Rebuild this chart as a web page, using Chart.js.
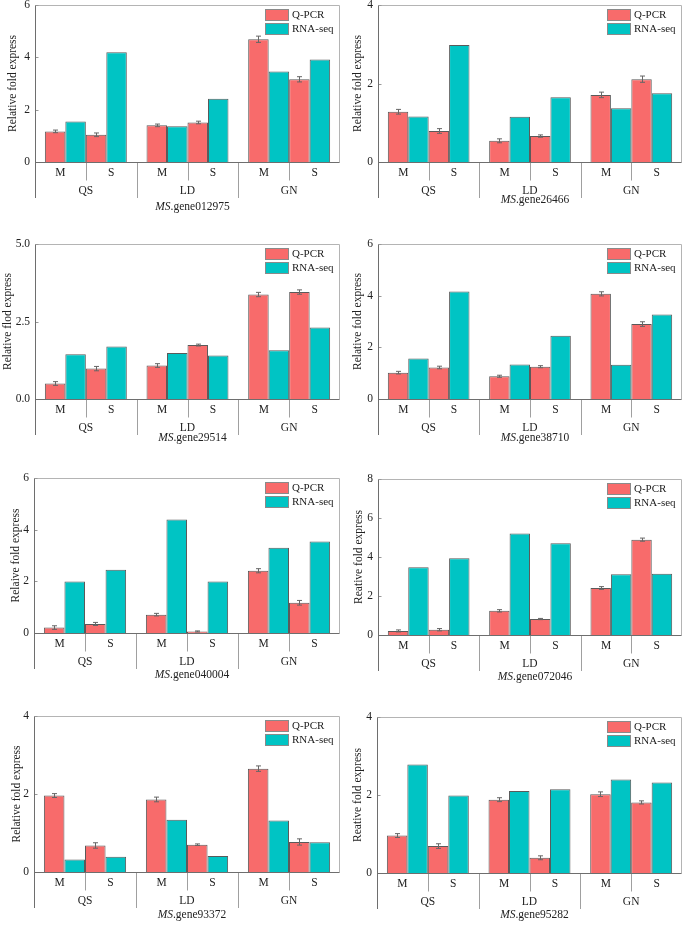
<!DOCTYPE html>
<html>
<head>
<meta charset="utf-8">
<script src="https://cdn.jsdelivr.net/npm/chart.js@4.4.1/dist/chart.umd.min.js"></script>
<style>
body{margin:0;background:#fff;}
#fig{position:relative;width:685px;height:942px;overflow:hidden;background:#fff;}
#fig canvas{position:absolute;}
</style>
</head>
<body>
<div id="fig"></div>
<script>
// ---- data ----
let seriesNames = ['Q-PCR', 'RNA-seq'];
let groups = ['QS', 'LD', 'GN'];
let subs = ['M', 'S'];
let genes = ['012975', '26466', '29514', '38710', '040004', '072046', '93372', '95282'];
let yTitles = ['Relative fold express', 'Relative fold express', 'Relative flod express', 'Relative fold express',
	'Relaive fold express', 'Reative fold express', 'Relative fold express', 'Reative fold express'];
let yMax = [6, 4, 5, 6, 6, 8, 4, 4];
let yStep = [2, 2, 2.5, 2, 2, 2, 2, 2];

// order of values: QS-M, QS-S, LD-M, LD-S, GN-M, GN-S
let q012975 = [1.17, 1.04, 1.40, 1.51, 4.69, 3.16];
let r012975 = [1.55, 4.19, 1.37, 2.42, 3.46, 3.92];
let e012975 = [0.05, 0.07, 0.05, 0.05, 0.12, 0.10];

let q26466 = [1.28, 0.79, 0.54, 0.66, 1.71, 2.11];
let r26466 = [1.16, 2.98, 1.15, 1.65, 1.37, 1.75];
let e26466 = [0.06, 0.06, 0.05, 0.03, 0.07, 0.08];

let q29514 = [0.50, 0.98, 1.08, 1.74, 3.37, 3.45];
let r29514 = [1.44, 1.69, 1.48, 1.40, 1.57, 2.31];
let e29514 = [0.06, 0.07, 0.06, 0.03, 0.07, 0.07];

let q38710 = [1.02, 1.22, 0.88, 1.25, 4.07, 2.90];
let r38710 = [1.57, 4.16, 1.34, 2.45, 1.33, 3.27];
let e38710 = [0.05, 0.05, 0.04, 0.04, 0.08, 0.09];

let q040004 = [0.21, 0.35, 0.71, 0.06, 2.41, 1.17];
let r040004 = [1.99, 2.45, 4.39, 1.99, 3.30, 3.54];
let e040004 = [0.07, 0.06, 0.05, 0.02, 0.08, 0.09];

let q072046 = [0.21, 0.27, 1.24, 0.82, 2.41, 4.89];
let r072046 = [3.48, 3.94, 5.21, 4.70, 3.11, 3.14];
let e072046 = [0.05, 0.06, 0.06, 0.03, 0.07, 0.08];

let q93372 = [1.96, 0.68, 1.86, 0.70, 2.65, 0.77];
let r93372 = [0.32, 0.39, 1.34, 0.41, 1.32, 0.76];
let e93372 = [0.05, 0.07, 0.06, 0.02, 0.07, 0.08];

let q95282 = [0.96, 0.69, 1.88, 0.39, 2.02, 1.81];
let r95282 = [2.78, 1.99, 2.10, 2.15, 2.40, 2.32];
let e95282 = [0.05, 0.06, 0.05, 0.05, 0.06, 0.04];

let qpcr = [q012975, q26466, q29514, q38710, q040004, q072046, q93372, q95282];
let rnaseq = [r012975, r26466, r29514, r38710, r040004, r072046, r93372, r95282];
let errs = [e012975, e26466, e29514, e38710, e040004, e072046, e93372, e95282];

// ---- layout (page pixels) ----
// plot frame: left, top, right, bottom(zero line)
let frames = [
	[35, 5, 340, 182], [378, 5, 682, 182],
	[35, 244, 340, 419], [378, 244, 682, 419],
	[34, 478, 340, 653], [378, 479, 682, 655],
	[34, 716, 340, 892], [377, 717, 682, 893]
];
let titleX = [12.5, 358.3, 7.5, 358.3, 15.8, 359, 16.7, 358.3];
let geneDy = [45, 38, 39, 39, 42, 42, 43, 42];

let RED = '#f86b6b';
let TEAL = '#00c4c4';
let FONT = '"Liberation Serif", "Times New Roman", serif';
let AXW = 40;

let figPlugin = {
	id: 'fig',
	afterDatasetsDraw(chart) {
		let ctx = chart.ctx;
		let y = chart.scales.y;
		ctx.save();
		ctx.strokeStyle = '#666';
		ctx.lineWidth = 1;
		chart.data.datasets.forEach(function(ds, d) {
			if (!ds.errors) return;
			let meta = chart.getDatasetMeta(d);
			meta.data.forEach(function(bar, i) {
				let v = ds.data[i], e = ds.errors[i];
				let x = Math.round(bar.x) + 0.5;
				let y1 = y.getPixelForValue(v + e), y2 = y.getPixelForValue(Math.max(v - e, 0));
				ctx.beginPath();
				ctx.moveTo(x, y1); ctx.lineTo(x, y2);
				ctx.moveTo(x - 2.5, y1); ctx.lineTo(x + 2.5, y1);
				ctx.moveTo(x - 2.5, y2); ctx.lineTo(x + 2.5, y2);
				ctx.stroke();
			});
		});
		ctx.restore();
	},
	afterDraw(chart) {
		let p = chart.options.plugins.fig.idx;
		let ctx = chart.ctx;
		let ca = chart.chartArea;
		let L = Math.round(ca.left) + 0.5, R = Math.round(ca.right) - 0.5;
		let T = Math.round(ca.top) + 0.5, B = Math.round(ca.bottom) + 0.5;
		let yScale = chart.scales.y, xScale = chart.scales.x;
		ctx.save();
		ctx.lineWidth = 1;
		// light frame top/right
		ctx.strokeStyle = '#b4b4b4';
		ctx.beginPath();
		ctx.moveTo(L, T); ctx.lineTo(R, T); ctx.lineTo(R, B);
		ctx.stroke();
		// inner ticks
		ctx.strokeStyle = '#999';
		ctx.beginPath();
		yScale.ticks.forEach(function(t) {
			let ty = Math.round(yScale.getPixelForValue(t.value)) + 0.5;
			ctx.moveTo(L, ty); ctx.lineTo(L + 3, ty);
		});
		ctx.stroke();
		// separators under axis
		let gw = (xScale.right - xScale.left) / groups.length;
		ctx.strokeStyle = '#a0a0a0';
		ctx.beginPath();
		for (let k = 1; k < groups.length; k++) {
			let sx = Math.round(xScale.left + gw * k) + 0.5;
			ctx.moveTo(sx, B); ctx.lineTo(sx, B + 35.5);
		}
		for (let k = 0; k < groups.length; k++) {
			let sx = Math.round(xScale.getPixelForValue(k)) + 0.5;
			ctx.moveTo(sx, B); ctx.lineTo(sx, B + 18);
		}
		ctx.stroke();
		// left axis and zero line
		ctx.strokeStyle = '#6e6e6e';
		ctx.beginPath();
		ctx.moveTo(L, T); ctx.lineTo(L, B + 35.5);
		ctx.moveTo(L, B); ctx.lineTo(R, B);
		ctx.stroke();
		// category labels
		ctx.fillStyle = '#222';
		ctx.textAlign = 'center';
		ctx.textBaseline = 'middle';
		ctx.font = '11.5px ' + FONT;
		for (let k = 0; k < groups.length; k++) {
			let cx = xScale.getPixelForValue(k);
			ctx.fillText(subs[0], cx - gw / 4, B + 10.5);
			ctx.fillText(subs[1], cx + gw / 4, B + 10.5);
			ctx.fillText(groups[k], cx, B + 28.5);
		}
		// gene label: italic "MS" + ".gene..."
		let gy = ca.bottom + geneDy[p];
		let part1 = 'MS', part2 = '.gene' + genes[p];
		ctx.font = 'italic 11.5px ' + FONT;
		let w1 = ctx.measureText(part1).width;
		ctx.font = '11.5px ' + FONT;
		let w2 = ctx.measureText(part2).width;
		let gx = (ca.left + ca.right) / 2 + 5 - (w1 + w2) / 2;
		ctx.textAlign = 'left';
		ctx.font = 'italic 11.5px ' + FONT;
		ctx.fillText(part1, gx, gy);
		ctx.font = '11.5px ' + FONT;
		ctx.fillText(part2, gx + w1, gy);
		// legend
		let colors = [RED, TEAL];
		ctx.font = '11px ' + FONT;
		for (let s = 0; s < seriesNames.length; s++) {
			let by = Math.round(ca.top) + 4 + s * 14;
			let bx = Math.round(ca.right) - 75;
			ctx.fillStyle = colors[s];
			ctx.fillRect(bx, by, 24, 12);
			ctx.strokeStyle = '#8a8a8a';
			ctx.strokeRect(bx + 0.5, by + 0.5, 23, 11);
			ctx.fillStyle = '#222';
			ctx.fillText(seriesNames[s], bx + 27, by + 6.5);
		}
		ctx.restore();
	}
};

function pick(arr, k){
	return [arr[k], arr[k + 2], arr[k + 4]];
}

function buildPanel(p){
	let f = frames[p];
	let L = f[0], T = f[1], R = f[2], B = f[3];
	let cv = document.createElement('canvas');
	let cw = R - L + AXW + 6, ch = B - T + 70;
	cv.width = cw; cv.height = ch;
	cv.style.left = (L - AXW) + 'px';
	cv.style.top = (T - 20) + 'px';
	cv.style.width = cw + 'px';
	cv.style.height = ch + 'px';
	document.getElementById('fig').appendChild(cv);

	let q = qpcr[p], r = rnaseq[p], e = errs[p];
	let datasets = [
		{label: seriesNames[0], data: pick(q, 0), errors: pick(e, 0), backgroundColor: RED},
		{label: seriesNames[1], data: pick(r, 0), backgroundColor: TEAL},
		{label: seriesNames[0], data: pick(q, 1), errors: pick(e, 1), backgroundColor: RED},
		{label: seriesNames[1], data: pick(r, 1), backgroundColor: TEAL}
	];
	let titleFont = 11.5;
	let titlePad = titleX[p] - (L - AXW) - titleFont * 1.2 / 2;

	new Chart(cv, {
		type: 'bar',
		data: {labels: groups, datasets: datasets},
		options: {
			responsive: false,
			animation: false,
			devicePixelRatio: 1,
			layout: {padding: {left: 0, top: 20, right: 6, bottom: 70}},
			datasets: {bar: {categoryPercentage: 0.806, barPercentage: 1, borderColor: '#5a5a5a', borderWidth: 1}},
			plugins: {legend: {display: false}, tooltip: {enabled: false}, fig: {idx: p}},
			scales: {
				x: {display: false},
				y: {
					min: 0, max: yMax[p],
					afterFit: function(s){ s.width = AXW; },
					grid: {display: false, drawTicks: false},
					border: {display: false},
					ticks: {
						stepSize: yStep[p], padding: 5, color: '#222',
						font: {family: FONT, size: 11.5},
						callback: function(v){ return yStep[p] % 1 ? v.toFixed(1) : v; }
					},
					title: {
						display: true, text: yTitles[p], color: '#222',
						font: {family: FONT, size: titleFont},
						padding: {top: titlePad, bottom: 0}
					}
				}
			}
		},
		plugins: [figPlugin]
	});
}

for (let p = 0; p < frames.length; p++) buildPanel(p);
</script>
</body>
</html>
